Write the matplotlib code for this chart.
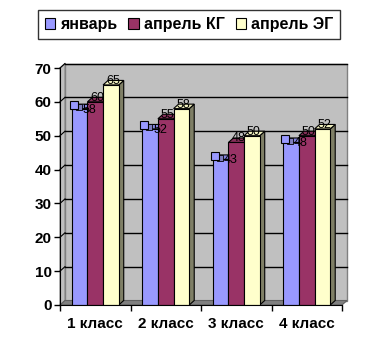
import numpy as np
import matplotlib
matplotlib.use("Agg")
import matplotlib.pyplot as plt
from matplotlib.patches import Polygon, Rectangle, Patch
from matplotlib.transforms import offset_copy

plt.rcParams['font.family'] = ['Liberation Sans', 'DejaVu Sans']

categories = ['1 класс', '2 класс', '3 класс', '4 класс']
series_names = ['январь', 'апрель КГ', 'апрель ЭГ']
jan = [58, 52, 43, 48]
apr_kg = [60, 55, 48, 50]
apr_eg = [65, 58, 50, 52]
values = [jan, apr_kg, apr_eg]

face_colors = ['#9999FF', '#993366', '#FFFFCC']
side_colors = ['#4C4C80', '#4C1933', '#7F7F66']
top_colors = ['#8585E0', '#86305A', '#F0F0BE']

fig = plt.figure(figsize=(3.8, 3.59), dpi=100)
ax = fig.add_axes([60 / 380, 54 / 359, 282 / 380, 237 / 359])
ax.set_xlim(-0.5, 3.5)
ax.set_ylim(0, 70)

# depth of the 3d walls, in pixels -> data units
px_x = 4.0 / 282
px_y = 70 / 237
dx = 5 * px_x
dy = 4.5 * px_y

# walls
wall = '#C0C0C0'
ax.add_patch(Rectangle((-0.5 + dx, dy), 4, 70, facecolor=wall, edgecolor='#808080',
                       lw=1, clip_on=False, zorder=0))
ax.add_patch(Polygon([(-0.5, 0), (-0.5, 70), (-0.5 + dx, 70 + dy), (-0.5 + dx, dy)],
                     closed=True, facecolor=wall, edgecolor='#808080', lw=0.8,
                     clip_on=False, zorder=0.5))
ax.add_patch(Polygon([(-0.5, 0), (3.5, 0), (3.5 + dx, dy), (-0.5 + dx, dy)],
                     closed=True, facecolor='#808080', edgecolor='#606060', lw=0.8,
                     clip_on=False, zorder=0.5))

# gridlines on back and left walls
for v in range(10, 80, 10):
    ax.plot([-0.5 + dx, 3.5 + dx], [v + dy, v + dy], color='black', lw=1, zorder=0.6,
            clip_on=False)
    ax.plot([-0.5, -0.5 + dx], [v, v + dy], color='black', lw=0.8, zorder=0.6,
            clip_on=False)

x = np.arange(len(categories))
w = 0.222
offsets = [-w, 0, w]

for s in range(3):
    xs = x + offsets[s]
    ax.bar(xs, values[s], width=w, color=face_colors[s], edgecolor='black', lw=0.8,
           zorder=2 + s)
    for xi, v in zip(xs, values[s]):
        left, right = xi - w / 2, xi + w / 2
        ax.add_patch(Polygon([(right, 0), (right + dx, dy), (right + dx, v + dy), (right, v)],
                             closed=True, facecolor=side_colors[s], edgecolor='black',
                             lw=0.8, zorder=1.9 + s, clip_on=False))
        ax.add_patch(Polygon([(left, v), (left + dx, v + dy), (right + dx, v + dy), (right, v)],
                             closed=True, facecolor=top_colors[s], edgecolor='black',
                             lw=0.8, zorder=1.9 + s, clip_on=False))

# data labels
lbl_color = 'black'
for xi, v in zip(x + offsets[0], jan):
    ax.annotate(str(v), (xi, v), xytext=(3, -1), textcoords='offset pixels',
                ha='left', va='center', fontsize=9, color=lbl_color, zorder=10)
    tr = offset_copy(ax.transData, fig=fig, x=-1, y=1.5, units='dots')
    ax.plot([xi], [v], marker='s', ms=4.5, mfc='#7F7FBF', mec='black', mew=0.6,
            transform=tr, zorder=10.5, clip_on=False)
    tr = offset_copy(ax.transData, fig=fig, x=-6, y=3.5, units='dots')
    ax.plot([xi], [v], marker='s', ms=6.2, mfc='#9999FF', mec='black', mew=0.8,
            transform=tr, zorder=11, clip_on=False)

for s in (1, 2):
    for xi, v in zip(x + offsets[s], values[s]):
        ax.annotate(str(v), (xi, v), xytext=(2, 1), textcoords='offset pixels',
                    ha='center', va='baseline', fontsize=9, color=lbl_color, zorder=10)

# axes
for sp in ('top', 'right'):
    ax.spines[sp].set_visible(False)
ax.spines['left'].set_zorder(5)
ax.spines['bottom'].set_zorder(5)
ax.set_yticks(range(0, 80, 10))
ax.set_yticklabels([str(t) for t in range(0, 80, 10)], fontsize=11, fontweight='bold')
ax.set_xticks(np.arange(-0.5, 4, 1))
ax.set_xticklabels([])
ax.set_xticks(x, minor=True)
ax.set_xticklabels(categories, minor=True, fontsize=11, fontweight='bold')
ax.tick_params(axis='x', which='minor', length=0, pad=9)
ax.tick_params(axis='both', which='major', direction='out', length=4, width=1)
ax.tick_params(axis='y', pad=2)
ax.patch.set_visible(False)

handles = [Patch(facecolor=c, edgecolor='black', lw=0.8) for c in face_colors]
leg = fig.legend(handles, series_names, loc='center', bbox_to_anchor=(189 / 380, 1 - 24.5 / 359),
                 ncol=3, frameon=True, fancybox=False, edgecolor='black', handlelength=0.65,
                 handleheight=0.65, handletextpad=0.3, columnspacing=0.7, borderpad=0.45,
                 prop={'size': 11.5, 'weight': 'bold'})
leg.get_frame().set_linewidth(1)

fig.savefig('out.png', dpi=100, facecolor='white')
